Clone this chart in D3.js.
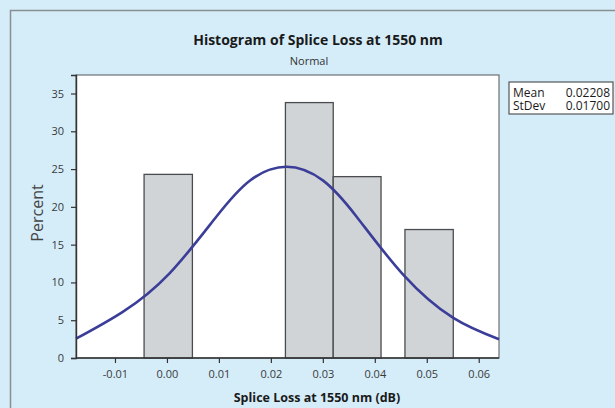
<!DOCTYPE html>
<html>
<head>
<meta charset="utf-8">
<script src="https://cdn.jsdelivr.net/npm/d3@7"></script>
<style>
  html, body { margin:0; padding:0; background:#d5edf9; }
  svg { display:block; font-family:"Open Sans", "DejaVu Sans", sans-serif; }
</style>
</head>
<body>
<svg id="chart" width="615" height="408"></svg>
<script>
/* ---- data ---- */
const binStart = [-0.0044, 0.0228, 0.0320, 0.0458];
const binEnd   = [ 0.0049, 0.0320, 0.0412, 0.0551];
const percent  = [24.3, 33.8, 24.0, 17.0];

// fitted normal curve
const curveX = [-0.0175, -0.0085, 0.0005, 0.0095, 0.0160, 0.0230,
                 0.0300,  0.0365, 0.0455, 0.0551, 0.0639];
const curveY = [2.55, 6.1, 11.2, 18.7, 23.5, 25.3,
                23.5, 18.7, 11.0, 5.3, 2.48];

const xTicks = [-0.01, 0.00, 0.01, 0.02, 0.03, 0.04, 0.05, 0.06];
const yTicks = [0, 5, 10, 15, 20, 25, 30, 35];

const statLabels = ['Mean', 'StDev'];
const statValues = ['0.02208', '0.01700'];

/* ---- layout ---- */
const svg = d3.select('#chart');
const P = {l:76, r:499, t:75, b:358};

const x = d3.scaleLinear().domain([-0.0175, 0.0639]).range([P.l, P.r]);
const y = d3.scaleLinear().domain([0, 37.45]).range([P.b, P.t]);

// outer frame
svg.append('rect')
  .attr('x',10.5).attr('y',10.5).attr('width',700).attr('height',500)
  .attr('fill','#d5edf9').attr('stroke','#8a8f94').attr('stroke-width',1.5);

// plot area
svg.append('rect')
  .attr('x',P.l).attr('y',P.t).attr('width',P.r-P.l).attr('height',P.b-P.t)
  .attr('fill','#fff').attr('stroke','#6d6f72').attr('stroke-width',1.2);

/* bars */
const bars = binStart.map((s,i)=>({s, e:binEnd[i], v:percent[i]}));
svg.append('g').selectAll('rect')
  .data(bars).enter().append('rect')
    .attr('x',d=>x(d.s))
    .attr('y',d=>y(d.v))
    .attr('width',d=>x(d.e)-x(d.s))
    .attr('height',d=>y(0)-y(d.v))
    .attr('fill','#d1d4d7')
    .attr('stroke','#4a4c4f')
    .attr('stroke-width',1.3);

/* normal curve */
const line = d3.line()
  .x(d=>x(d[0])).y(d=>y(d[1]))
  .curve(d3.curveNatural);
svg.append('path')
  .datum(curveX.map((v,i)=>[v,curveY[i]]))
  .attr('d',line)
  .attr('fill','none')
  .attr('stroke','#3b3e98')
  .attr('stroke-width',2.6);

/* axes */
const fmtX = d => d3.format('.2f')(d).replace('−','-');
const xAxis = svg.append('g')
  .attr('transform',`translate(0,${P.b})`)
  .call(d3.axisBottom(x).tickValues(xTicks).tickFormat(fmtX).tickSizeOuter(0).tickSize(5).tickPadding(7));
const yAxis = svg.append('g')
  .attr('transform',`translate(${P.l},0)`)
  .call(d3.axisLeft(y).tickValues(yTicks).tickSizeOuter(0).tickSize(5).tickPadding(7));

[xAxis, yAxis].forEach(a=>{
  a.select('.domain').attr('stroke','#333').attr('stroke-width',1.4);
  a.selectAll('.tick line').attr('stroke','#333').attr('stroke-width',1.2);
  a.selectAll('.tick text').attr('fill','#3a3a3a')
    .style('font-size','11px').style('font-family','"Open Sans", sans-serif');
});
xAxis.select('.domain').attr('d',`M${P.l},0H${P.r}`);

/* titles */
svg.append('text')
  .attr('x',318).attr('y',45).attr('text-anchor','middle')
  .style('font-size','14px').style('font-weight','bold').attr('fill','#1a1a1a')
  .text('Histogram of Splice Loss at 1550 nm');
svg.append('text')
  .attr('x',309).attr('y',65).attr('text-anchor','middle')
  .style('font-size','11px').attr('fill','#333')
  .text('Normal');
svg.append('text')
  .attr('x',317).attr('y',402).attr('text-anchor','middle')
  .style('font-size','12.5px').style('font-weight','bold').attr('fill','#1a1a1a')
  .text('Splice Loss at 1550 nm (dB)');
svg.append('text')
  .attr('transform','translate(43,213) rotate(-90)')
  .attr('text-anchor','middle')
  .style('font-size','16px').attr('fill','#444')
  .text('Percent');

/* stats box */
const SB = svg.append('g');
SB.append('rect')
  .attr('x',509).attr('y',82).attr('width',104).attr('height',32)
  .attr('fill','#fff').attr('stroke','#555').attr('stroke-width',1.2);
const labT = SB.append('text').attr('x',513).attr('y',97)
  .style('font-size','12px').attr('fill','#1a1a1a');
labT.selectAll('tspan').data(statLabels).enter().append('tspan')
  .attr('x',513).attr('dy',(d,i)=>i ? 12.5 : 0).text(d=>d);
const valT = SB.append('text').attr('x',610).attr('y',97).attr('text-anchor','end')
  .style('font-size','12px').attr('fill','#1a1a1a');
valT.selectAll('tspan').data(statValues).enter().append('tspan')
  .attr('x',610).attr('dy',(d,i)=>i ? 12.5 : 0).text(d=>d);
</script>
</body>
</html>
